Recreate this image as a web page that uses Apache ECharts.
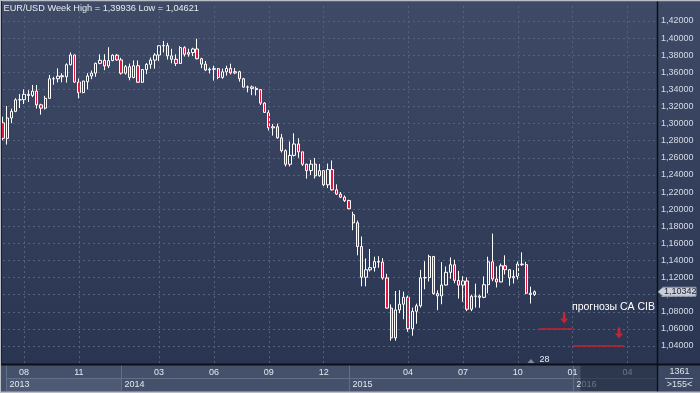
<!DOCTYPE html>
<html><head><meta charset="utf-8">
<script src="https://cdn.jsdelivr.net/npm/echarts@6/dist/echarts.min.js"></script>
<style>html,body{margin:0;padding:0;background:#2f3b56;}#c{width:700px;height:393px;}</style>
</head><body><div id="c"></div>
<script>
// weekly candles, [open, close, low, high], bar index = position on the chart
const candles = [
[1.3010,1.2828,1.2805,1.3081],[1.2828,1.3066,1.2755,1.3206],[1.3066,1.3143,1.3006,1.3175],[1.3143,1.3278,1.3134,1.3297],
[1.3278,1.3280,1.3183,1.3346],[1.3280,1.3343,1.3230,1.3400],[1.3343,1.3329,1.3253,1.3392],[1.3329,1.3380,1.3310,1.3452],
[1.3380,1.3220,1.3176,1.3452],[1.3220,1.3181,1.3105,1.3232],[1.3181,1.3296,1.3165,1.3325],[1.3296,1.3524,1.3292,1.3569],
[1.3524,1.3525,1.3455,1.3548],[1.3525,1.3555,1.3482,1.3646],[1.3560,1.3548,1.3483,1.3589],[1.3548,1.3689,1.3480,1.3705],
[1.3689,1.3803,1.3680,1.3832],[1.3803,1.3486,1.3476,1.3807],[1.3486,1.3363,1.3296,1.3528],[1.3363,1.3498,1.3355,1.3500],
[1.3490,1.3557,1.3400,1.3590],[1.3557,1.3591,1.3520,1.3620],[1.3591,1.3705,1.3548,1.3713],[1.3705,1.3740,1.3695,1.3811],
[1.3740,1.3675,1.3625,1.3812],[1.3675,1.3737,1.3650,1.3893],[1.3737,1.3800,1.3730,1.3810],[1.3800,1.3745,1.3735,1.3815],
[1.3745,1.3590,1.3573,1.3770],[1.3590,1.3666,1.3574,1.3686],[1.3666,1.3540,1.3507,1.3702],[1.3540,1.3677,1.3529,1.3740],
[1.3677,1.3484,1.3478,1.3739],[1.3484,1.3632,1.3476,1.3638],[1.3632,1.3693,1.3579,1.3707],[1.3693,1.3743,1.3642,1.3773],
[1.3743,1.3802,1.3642,1.3824],[1.3802,1.3911,1.3733,1.3915],[1.3911,1.3913,1.3833,1.3967],[1.3913,1.3792,1.3749,1.3945],
[1.3792,1.3753,1.3705,1.3875],[1.3753,1.3704,1.3673,1.3810],[1.3704,1.3889,1.3700,1.3906],[1.3889,1.3812,1.3785,1.3905],
[1.3812,1.3831,1.3782,1.3876],[1.3831,1.3873,1.3790,1.3887],[1.3873,1.3759,1.3752,1.3993],[1.3759,1.3696,1.3648,1.3770],
[1.3696,1.3627,1.3615,1.3733],[1.3627,1.3635,1.3586,1.3655],[1.3635,1.3643,1.3503,1.3677],[1.3643,1.3541,1.3520,1.3650],
[1.3541,1.3606,1.3524,1.3644],[1.3606,1.3645,1.3561,1.3677],[1.3645,1.3593,1.3575,1.3701],[1.3593,1.3607,1.3578,1.3650],
[1.3607,1.3525,1.3490,1.3618],[1.3525,1.3427,1.3422,1.3535],[1.3427,1.3429,1.3366,1.3445],[1.3429,1.3412,1.3333,1.3445],
[1.3412,1.3398,1.3330,1.3434],[1.3398,1.3240,1.3218,1.3400],[1.3240,1.3131,1.3130,1.3250],[1.3131,1.2951,1.2919,1.3160],
[1.2951,1.2963,1.2860,1.2995],[1.2963,1.2834,1.2824,1.3000],[1.2834,1.2684,1.2663,1.2880],[1.2684,1.2525,1.2500,1.2700],
[1.2525,1.2629,1.2500,1.2791],[1.2629,1.2762,1.2615,1.2887],[1.2762,1.2670,1.2600,1.2830],[1.2670,1.2525,1.2505,1.2672],
[1.2525,1.2451,1.2357,1.2532],[1.2451,1.2526,1.2398,1.2577],[1.2526,1.2390,1.2358,1.2599],[1.2390,1.2450,1.2380,1.2529],
[1.2450,1.2285,1.2247,1.2456],[1.2285,1.2463,1.2247,1.2533],[1.2463,1.2226,1.2218,1.2570],[1.2226,1.2176,1.2165,1.2290],
[1.2176,1.2140,1.2130,1.2200],[1.2140,1.2100,1.2085,1.2160],[1.2100,1.2005,1.2000,1.2110],[1.1935,1.1840,1.1754,1.1970],
[1.1840,1.1563,1.1460,1.1867],[1.1563,1.1204,1.1098,1.1680],[1.1204,1.1291,1.1097,1.1424],[1.1291,1.1316,1.1270,1.1534],
[1.1316,1.1387,1.1270,1.1444],[1.1387,1.1381,1.1315,1.1450],[1.1381,1.1196,1.1175,1.1428],[1.1196,1.0843,1.0840,1.1244],
[1.0843,1.0495,1.0462,1.0887],[1.0495,1.0822,1.0462,1.1043],[1.0822,1.0889,1.0783,1.1052],[1.0889,1.0970,1.0713,1.1036],
[1.0970,1.0602,1.0566,1.0990],[1.0602,1.0806,1.0520,1.0849],[1.0806,1.0870,1.0660,1.0895],[1.0870,1.1197,1.0848,1.1290],
[1.1197,1.1200,1.1063,1.1391],[1.1200,1.1447,1.1155,1.1467],[1.1447,1.1013,1.1000,1.1450],[1.1013,1.0986,1.0819,1.1050],
[1.0986,1.1113,1.0888,1.1380],[1.1113,1.1261,1.1108,1.1330],[1.1261,1.1350,1.1187,1.1436],[1.1350,1.1167,1.1134,1.1408],
[1.1167,1.1112,1.0954,1.1278],[1.1112,1.1160,1.0916,1.1215],[1.1160,1.0830,1.0808,1.1203],[1.0830,1.0981,1.0807,1.1000],
[1.0981,1.0984,1.0848,1.1128],[1.0984,1.0969,1.0847,1.1000],[1.0969,1.1117,1.0959,1.1214],[1.1117,1.1384,1.1016,1.1444],
[1.1384,1.1183,1.1157,1.1714],[1.1183,1.1149,1.1085,1.1331],[1.1149,1.1338,1.1144,1.1364],[1.1338,1.1292,1.1236,1.1460],
[1.1292,1.1197,1.1104,1.1300],[1.1197,1.1213,1.1131,1.1288],[1.1213,1.1358,1.1178,1.1388],[1.1358,1.1351,1.1337,1.1495],
[1.1351,1.1017,1.1005,1.1384],[1.1017,1.1003,1.0897,1.1094],[1.1003,1.10342,1.0985,1.1050]
];
const monthTickBars = [5,18,37,50,63,76,96,109,122,135,148];
const monthTickLabels = ['08','11','03','06','09','12','04','07','10','01','04'];
const yearStartBars = [1,28,82,135];
const yearLabels = ['2013','2014','2015','2016'];
const forecastLevels = [1.06, 1.04];
const forecastStart = [127, 135];
const forecastEnd = [135, 147];
const forecastArrowBars = [133, 146];
const forecastArrowValues = [1.0728, 1.0552];
const forecastText = 'прогнозы CA CIB';
const weekHigh = 1.39936, weekLow = 1.04621;
const visibleBars = 155, totalBars = 1361;
const markerBar = 125, markerText = '28';
const futureFromBar = 137;

const FONT = '"Liberation Sans", Arial, sans-serif';
const fmt = v => v.toFixed(5).replace('.', ',');
const L = 3, R = 657, T = 3.9, B = 363.1;
const chart = echarts.init(document.getElementById('c'));
const lastPrice = candles[candles.length - 1][1];

const series = [
  {type:'scatter', data:[], z:1, silent:true,
   markLine:{symbol:'none', silent:true, animation:false, label:{show:false},
     lineStyle:{color:'#56627d', type:[2,3], width:1},
     data: monthTickBars.map(v => ({xAxis: v}))}},
  {type:'candlestick', data: candles.map((c,i) => [i].concat(c)), barWidth:2.8, z:3, clip:true,
   itemStyle:{color:'#34405b', color0:'#e3173d', borderColor:'#ffffff', borderColor0:'#ffffff', borderWidth:1}}
];
forecastLevels.forEach((lv, k) => {
  series.push({type:'line', data:[[forecastStart[k], lv],[forecastEnd[k], lv]], symbol:'none', z:4,
    lineStyle:{color:'#c8202c', width:1.5}});
});
series.push({type:'scatter', z:5, data: forecastArrowBars.map((b,k) => [b, forecastArrowValues[k]]),
  symbol:'path://M3,0 L6,0 L6,6 L9,6 L4.5,11 L0,6 L3,6 Z', symbolSize:[8,11],
  itemStyle:{color:'#e8202c'}});

chart.setOption({
  animation:false,
  grid:{left:L, right:700-R, top:T, bottom:393-B},
  xAxis:{type:'value', min:0, max:visibleBars, axisLine:{show:false}, axisTick:{show:false}, splitLine:{show:false},
    axisLabel:{customValues: monthTickBars, formatter: v => monthTickLabels[monthTickBars.indexOf(v)] || '',
      color:'#e3e8f0', fontSize:9, fontFamily:FONT, margin:4.5}},
  yAxis:{type:'value', position:'right', min:1.02, max:1.44, interval:0.02, scale:true,
    axisLine:{show:false}, axisTick:{show:false},
    axisLabel:{formatter: v => (v < 1.035 || v > 1.425) ? '' : fmt(v), color:'#d5dbe6', fontSize:9, fontFamily:FONT, margin:4, align:'left'},
    splitLine:{show:true, showMinLine:false, showMaxLine:false, lineStyle:{color:'#56627d', type:[2,3], width:1}}},
  series
});

const px = (x, y) => chart.convertToPixel({gridIndex:0}, [x, y]);
const xb = b => px(b, 1.2)[0];
const g = [];
g.push({type:'rect', z:-100, silent:true, shape:{x:0,y:0,width:700,height:365},
  style:{fill:new echarts.graphic.LinearGradient(0,0,0,1,[{offset:0,color:'#3f4b66'},{offset:1,color:'#2a3651'}])}});
g.push({type:'rect', z:-100, silent:true, shape:{x:0,y:365,width:700,height:28}, style:{fill:'#45516a'}});
g.push({type:'rect', z:-99, silent:true, shape:{x:R,y:365,width:43,height:28}, style:{fill:'#3c4862'}});
g.push({type:'rect', z:-99, silent:true, shape:{x:xb(yearStartBars[0])-1,y:378,width:xb(yearStartBars[1])-xb(yearStartBars[0])+1,height:13}, style:{fill:'#4e5a74'}});
g.push({type:'line', z:-98, silent:true, shape:{x1:xb(yearStartBars[0])-1,y1:378.5,x2:R,y2:378.5}, style:{stroke:'#607089',lineWidth:1}});
yearStartBars.forEach((b,k) => {
  const x = Math.round(xb(b)) + 0.5 - (k===0?1:0);
  g.push({type:'line', z:-98, silent:true, shape:{x1:x,y1:365,x2:x,y2:391}, style:{stroke:'#607089',lineWidth:1}});
  g.push({type:'text', z:10, silent:true, x:x+3, y:385, style:{text:yearLabels[k], fill:'#e3e8f0', fontSize:9, fontFamily:FONT, verticalAlign:'middle', align:'left'}});
});
// future shading in the time bar
g.push({type:'rect', z:50, silent:true, shape:{x:xb(futureFromBar)-0.5,y:365,width:R-xb(futureFromBar)+0.5,height:26}, style:{fill:'rgba(30,40,62,0.62)'}});
// separators
g.push({type:'line', z:20, silent:true, shape:{x1:0,y1:364.5,x2:700,y2:364.5}, style:{stroke:'#0b0f18',lineWidth:2}});
g.push({type:'line', z:20, silent:true, shape:{x1:R+0.5,y1:0,x2:R+0.5,y2:393}, style:{stroke:'#0b0f18',lineWidth:1.5}});
// frame
g.push({type:'line', z:30, silent:true, shape:{x1:0,y1:0.5,x2:700,y2:0.5}, style:{stroke:'#b9bec6',lineWidth:1.5}});
g.push({type:'line', z:30, silent:true, shape:{x1:0.5,y1:0,x2:0.5,y2:393}, style:{stroke:'#b9bec6',lineWidth:1}});
g.push({type:'line', z:30, silent:true, shape:{x1:1.5,y1:1,x2:1.5,y2:364}, style:{stroke:'#1a2030',lineWidth:1}});
g.push({type:'line', z:30, silent:true, shape:{x1:0,y1:392.2,x2:700,y2:392.2}, style:{stroke:'#b9bec6',lineWidth:1.6}});
// title
g.push({type:'text', z:30, silent:true, x:3.5, y:8, style:{text:'EUR/USD Week High = ' + fmt(weekHigh) + ' Low = ' + fmt(weekLow),
  fill:'#e6eaf1', fontSize:9.2, fontFamily:FONT, verticalAlign:'middle', align:'left'}});
// annotation
g.push({type:'text', z:30, silent:true, x:655, y:307, style:{text:forecastText, fill:'#ffffff', fontSize:10.5, fontFamily:FONT, verticalAlign:'middle', align:'right'}});
// price tag
const py = px(0, lastPrice)[1];
g.push({type:'polygon', z:30, silent:true, shape:{points:[[658,py],[663,py-4.5],[696,py-4.5],[696,py+4.5],[663,py+4.5]]}, style:{fill:'#c9ced8', stroke:'#8e96a6', lineWidth:1}});
g.push({type:'text', z:31, silent:true, x:664, y:py, style:{text:fmt(lastPrice), fill:'#1b2230', fontSize:9, fontFamily:FONT, verticalAlign:'middle', align:'left'}});
// bottom-right box
g.push({type:'text', z:30, silent:true, x:679.5, y:372, style:{text:String(totalBars), fill:'#dde3ec', fontSize:9, fontFamily:FONT, verticalAlign:'middle', align:'center'}});
g.push({type:'line', z:30, silent:true, shape:{x1:665,y1:378.5,x2:693,y2:378.5}, style:{stroke:'#aab3c2',lineWidth:1}});
g.push({type:'text', z:30, silent:true, x:679.5, y:385, style:{text:'>' + visibleBars + '<', fill:'#dde3ec', fontSize:9, fontFamily:FONT, verticalAlign:'middle', align:'center'}});
// last-bar marker
const mx = xb(markerBar);
g.push({type:'polygon', z:30, silent:true, shape:{points:[[mx-3,363],[mx+4,363],[mx+0.5,359]]}, style:{fill:'#7e8aa0'}});
g.push({type:'text', z:30, silent:true, x:mx+9, y:360, style:{text:markerText, fill:'#e6eaf1', fontSize:9, fontFamily:FONT, verticalAlign:'middle', align:'left'}});

chart.setOption({graphic:{elements:g}});
</script></body></html>
